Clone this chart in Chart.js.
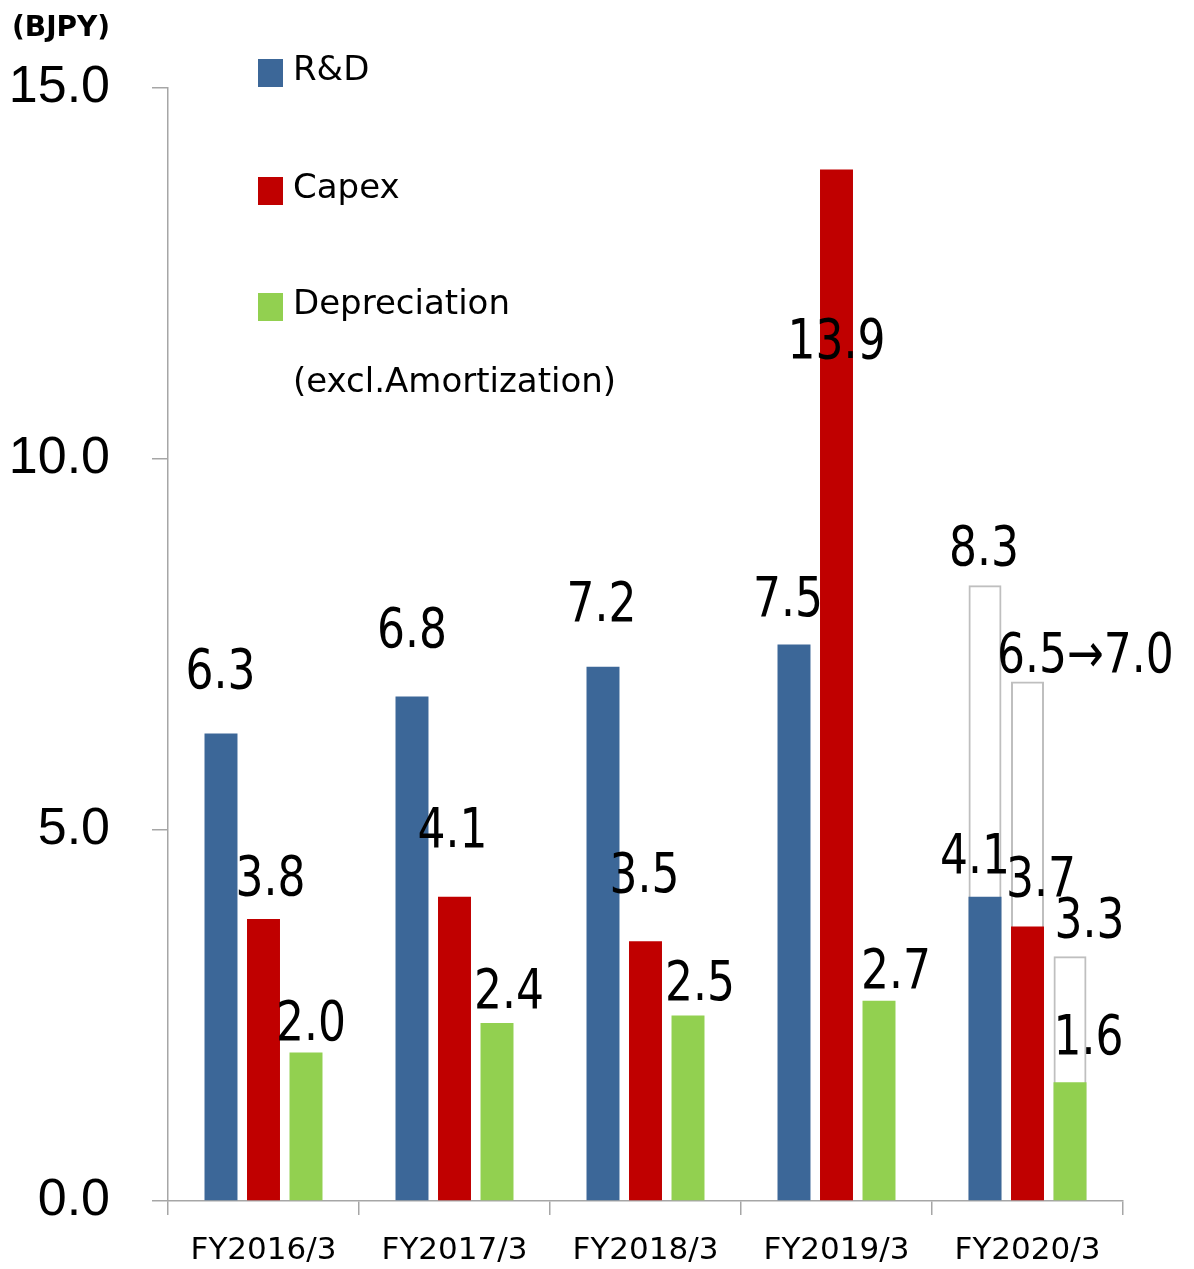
<!DOCTYPE html>
<html>
<head>
<meta charset="utf-8">
<title>R&amp;D / Capex / Depreciation</title>
<script src="https://cdn.jsdelivr.net/npm/chart.js@4.4.1/dist/chart.umd.min.js"></script>
<style>
  html, body { margin: 0; padding: 0; background: #fff; }
  #wrap { width: 1194px; height: 1269px; position: relative; }
</style>
</head>
<body>
<div id="wrap"><canvas id="spend-chart"></canvas></div>
<script>
const years = ["FY2016/3", "FY2017/3", "FY2018/3", "FY2019/3", "FY2020/3"];
const rdValues = [6.3, 6.8, 7.2, 7.5, 4.1];
const capexValues = [3.8, 4.1, 3.5, 13.9, 3.7];
const deprValues = [2.0, 2.4, 2.5, 2.7, 1.6];
// FY2020/3 full-year forecast, drawn as empty outlined bars
const rdForecast = [null, null, null, null, 8.3];
const capexForecast = [null, null, null, null, 7.0];
const deprForecast = [null, null, null, null, 3.3];
const capexForecastBefore = 6.5;
const yTicks = [0, 5, 10, 15];
const unitLabel = "(BJPY)";
const seriesNames = ["R&D", "Capex", "Depreciation"];
const deprNote = "(excl.Amortization)";

const colors = ["#3c6798", "#c00000", "#92d050"];
const axisGray = "#a6a6a6";

// label shifts [dx, dy] from bar top-centre, px (labels were hand placed in the original)
const nudgeFill = [
  [[-0.5, -46], [0, -49], [-1.5, -46], [-6, -29], [-10, -24]],
  [[7, -24], [-2, -50], [-1, -49], [0, 188], [13.5, -30]],
  [[5, -13], [12, -15], [12, -16], [17, -13], [18.5, -28]],
];
const nudgeForecast = [[-1, -20], [-30.5, -10, "left"], [19.5, -19]];

const valueLabels = {
  id: "valueLabels",
  afterDatasetsDraw(chart) {
    const ctx = chart.ctx;
    ctx.save();
    ctx.font = "55px 'DejaVu Sans'";
    ctx.fillStyle = "#000";
    ctx.textBaseline = "alphabetic";
    chart.data.datasets.forEach((ds, di) => {
      const meta = chart.getDatasetMeta(di);
      ds.data.forEach((v, i) => {
        if (v === null) return;
        const bar = meta.data[i];
        let n, text;
        if (di < 3) {
          n = nudgeFill[di][i];
          text = v.toFixed(1);
        } else {
          n = nudgeForecast[di - 3];
          text = di === 4 ? capexForecastBefore.toFixed(1) + "\u2192" + v.toFixed(1) : v.toFixed(1);
        }
        ctx.save();
        ctx.translate(bar.x + n[0], bar.y + n[1]);
        ctx.scale(0.8, 1);
        ctx.textAlign = n[2] || "center";
        ctx.fillText(text, 0, 0);
        ctx.restore();
      });
    });
    ctx.restore();
  },
};

const sideLegend = {
  id: "sideLegend",
  afterDraw(chart) {
    const ctx = chart.ctx;
    const rows = [59, 177, 293];
    ctx.save();
    ctx.font = "34px 'DejaVu Sans'";
    ctx.textBaseline = "alphabetic";
    ctx.textAlign = "left";
    chart.data.datasets.slice(0, 3).forEach((ds, i) => {
      ctx.fillStyle = ds.backgroundColor;
      ctx.fillRect(258, rows[i], 25, 28);
      ctx.fillStyle = "#000";
      ctx.fillText(ds.label, 293, rows[i] + 21);
    });
    ctx.fillText(deprNote, 293, 392);
    ctx.font = "bold 28px 'DejaVu Sans'";
    ctx.fillText(unitLabel, 12, 36);
    ctx.restore();
  },
};

function fillSet(i, data) {
  return {
    label: seriesNames[i],
    data: data,
    stack: "s" + i,
    backgroundColor: colors[i],
    borderWidth: 0,
  };
}

function outlineSet(i, data) {
  return {
    label: seriesNames[i] + " forecast",
    data: data,
    stack: "s" + i,
    backgroundColor: "rgba(255,255,255,0)",
    borderColor: "#bfbfbf",
    borderWidth: 2,
  };
}

const ctx = document.getElementById("spend-chart").getContext("2d");

const spendChart = new Chart(ctx, {
  type: "bar",
  data: {
    labels: years,
    datasets: [
      fillSet(0, rdValues),
      fillSet(1, capexValues),
      fillSet(2, deprValues),
      outlineSet(0, rdForecast),
      outlineSet(1, capexForecast),
      outlineSet(2, deprForecast),
    ],
  },
  options: {
    responsive: true,
    maintainAspectRatio: false,
    animation: false,
    categoryPercentage: 0.6676,
    barPercentage: 0.776,
    layout: { padding: { top: 88, right: 71, left: 0, bottom: 0 } },
    plugins: {
      legend: { display: false },
      tooltip: { enabled: false },
    },
    scales: {
      x: {
        stacked: true,
        grid: { offset: true, drawOnChartArea: false, tickLength: 14, color: axisGray, lineWidth: 1.5 },
        border: { display: true, color: axisGray, width: 1.5 },
        ticks: {
          color: "#000",
          font: { family: "'DejaVu Sans'", size: 31 },
          padding: 17,
          maxRotation: 0,
          autoSkip: false,
        },
        afterFit: (axis) => { axis.height = 68; },
      },
      y: {
        stacked: false,
        min: 0,
        max: 15,
        grid: { drawOnChartArea: false, tickLength: 16, color: axisGray, lineWidth: 1.5 },
        border: { display: true, color: axisGray, width: 1.5 },
        ticks: {
          color: "#000",
          font: { family: "'Liberation Sans', Arial", size: 52 },
          padding: 42,
          callback: (v) => Number(v).toFixed(1),
        },
        afterBuildTicks: (axis) => { axis.ticks = yTicks.map((v) => ({ value: v })); },
        afterFit: (axis) => {
          axis.width = 168;
          axis.paddingTop = 0;
          axis.paddingBottom = 0;
        },
      },
    },
  },
  plugins: [valueLabels, sideLegend],
});
</script>
</body>
</html>
